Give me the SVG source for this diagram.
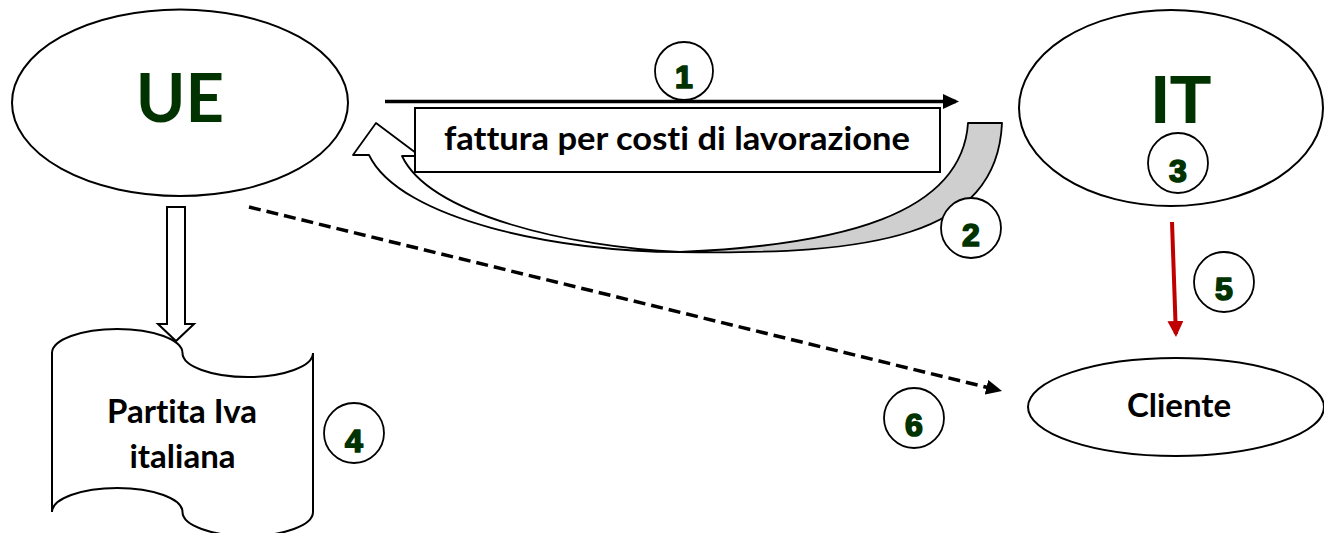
<svg xmlns="http://www.w3.org/2000/svg" width="1324" height="533" viewBox="0 0 1324 533">
<style>
.shape{fill:#ffffff;stroke:#000000;stroke-width:2}
.badge{fill:#ffffff;stroke:#000000;stroke-width:1.8}
.num{font-family:"Liberation Sans",Arial,sans-serif;font-weight:bold;font-size:32px;fill:#003300;stroke:#003300;stroke-width:1.7;stroke-linejoin:round;text-anchor:middle}
.lbl{font-family:Lato,"Open Sans",sans-serif;font-weight:bold;font-size:33px;fill:#000000;text-anchor:middle;font-variant-ligatures:none}
.big{font-weight:bold;fill:#003300;text-anchor:middle;font-variant-ligatures:none}
.conn{fill:none;stroke:#000000;stroke-width:3.5}
</style>
<defs>
<marker id="ahBlack" markerUnits="userSpaceOnUse" viewBox="0 0 16 15" markerWidth="16" markerHeight="15" refX="13" refY="7.5" orient="auto">
<path d="M0,0 L16,7.5 L0,15 Z" fill="#000000"/>
</marker>
<marker id="ahRed" markerUnits="userSpaceOnUse" viewBox="0 0 16 16" markerWidth="16" markerHeight="16" refX="13" refY="8" orient="auto">
<path d="M0,0 L16,8 L0,16 Z" fill="#c00000"/>
</marker>
</defs>
<rect width="1324" height="533" fill="#ffffff"/>

<g id="connectors">
<path id="curved-arrow-back" d="M968,123 L1002,123 C997,238 870,255 680,252 C840,245 962,215 968,123 Z" fill="#cfcfcf" stroke="#000000" stroke-width="1.8" stroke-linejoin="round"/>
<path id="curved-arrow-front" d="M353,155 L376,123 L420,156 L402,156 C430,215 570,247 680,252 C560,252 400,220 369,155 Z" fill="#ffffff" stroke="#000000" stroke-width="1.8" stroke-linejoin="round"/>
<line id="arrow-1" class="conn" x1="385" y1="101.5" x2="956" y2="101.5" marker-end="url(#ahBlack)"/>
<line id="arrow-6" class="conn" x1="249" y1="207" x2="999.1" y2="390.3" stroke-dasharray="12 6" marker-end="url(#ahBlack)"/>
<line id="arrow-5" x1="1172" y1="222" x2="1175.9" y2="334" stroke="#c00000" stroke-width="4" marker-end="url(#ahRed)"/>
<path id="block-arrow-4" class="shape" stroke-width="1.8" d="M167,207 L185,207 L185,324 L194,324 L176,341 L158,324 L167,324 Z"/>
</g>

<g id="node-invoice">
<rect class="shape" x="415" y="108" width="525" height="64"/>
<text class="lbl" x="677" y="150" textLength="466" lengthAdjust="spacingAndGlyphs">fattura per costi di lavorazione</text>
</g>

<g id="node-UE">
<ellipse class="shape" cx="180" cy="102.7" rx="168" ry="93.3"/>
<text class="big" x="180" y="122" font-family="Lato,'Open Sans',sans-serif" font-size="67">UE</text>
</g>

<g id="node-IT">
<ellipse class="shape" cx="1171" cy="108" rx="152" ry="98"/>
<text class="big" x="1181" y="123" font-family="'Liberation Sans',Arial,sans-serif" font-size="68">IT</text>
</g>

<g id="node-cliente">
<ellipse class="shape" cx="1176" cy="407" rx="148" ry="49"/>
<text class="lbl" x="1179" y="417">Cliente</text>
</g>

<g id="node-partita-iva">
<path class="shape" d="M52,353 A65,24 0 0 1 182.5,353 A65,24 0 0 0 313,353 L313,512 A65,24 0 0 1 182.5,512 A65,24 0 0 0 52,512 Z"/>
<text class="lbl" x="182" y="423">Partita Iva</text>
<text class="lbl" x="182.5" y="468">italiana</text>
</g>

<g id="badge-1"><circle class="badge" cx="684" cy="71" r="29"/><text class="num" x="684" y="88">1</text></g>
<g id="badge-2"><circle class="badge" cx="971" cy="228" r="30"/><text class="num" x="971" y="246">2</text></g>
<g id="badge-3"><circle class="badge" cx="1178" cy="163" r="30"/><text class="num" x="1178" y="182">3</text></g>
<g id="badge-4"><circle class="badge" cx="354" cy="433" r="30"/><text class="num" x="354" y="452">4</text></g>
<g id="badge-5"><circle class="badge" cx="1224" cy="282" r="30"/><text class="num" x="1224" y="300">5</text></g>
<g id="badge-6"><circle class="badge" cx="914" cy="418" r="30"/><text class="num" x="914" y="436">6</text></g>
</svg>
